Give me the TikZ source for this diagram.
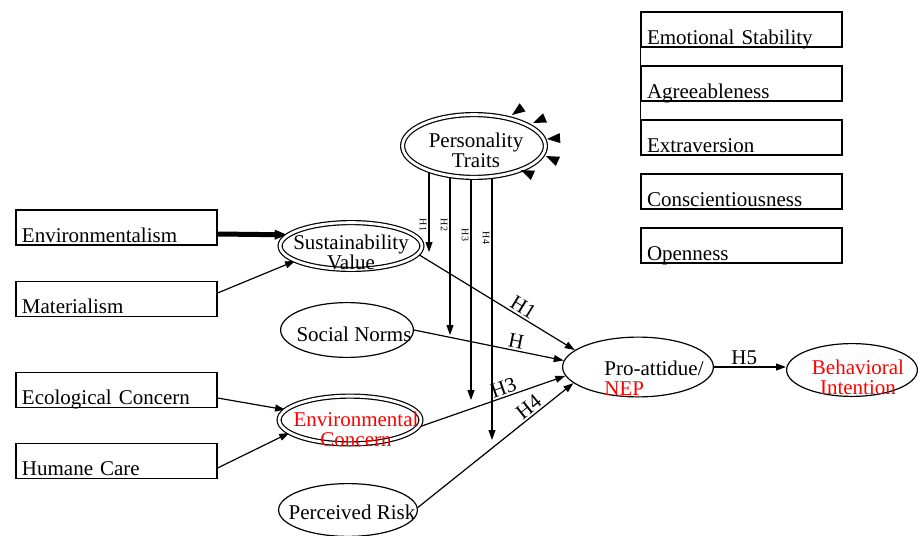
\documentclass[tikz,border=0pt]{standalone}
\usepackage{fontspec}
\setmainfont{Liberation Serif}
\usetikzlibrary{shapes.geometric,arrows.meta,backgrounds}

\begin{document}
\begin{tikzpicture}[
            x=0.5pt, y=-0.5pt,
            font=\fontsize{10.5}{10}\selectfont,
            every node/.style={inner sep=0pt},
            obs/.style={draw, rectangle, line width=0.6pt, text width=94.5pt, align=left,
                inner xsep=3pt, inner ysep=0pt, text height=16pt, text depth=1.5pt},
            lat/.style={draw, ellipse, line width=0.6pt, fill=white},
            dlat/.style={lat, double, double distance=1.4pt},
            arr/.style={-{Triangle[length=5pt,width=3.5pt]}, line width=0.6pt},
            hyp/.style={sloped, above=1pt},
            mod/.style={rotate=-90, anchor=north, inner sep=1pt, font=\fontsize{5}{5}\selectfont},
        ]
            \useasboundingbox (0,0) rectangle (918,536);

            % observed boxes on the left
            \node [obs] (envm) at (116.5,227.5) {Environmentalism};
            \node [obs] (mat) at (116.5,299) {Materialism};
            \node [obs] (eco) at (116.5,390) {Ecological Concern};
            \node [obs] (hum) at (116.5,461) {Humane Care};

            % big five boxes
            \node [obs] (emo) at (741.5,29.5) {Emotional Stability};
            \node [obs] (agr) at (741.5,83.5) {Agreeableness};
            \node [obs] (ext) at (741.5,137.5) {Extraversion};
            \node [obs] (con) at (741.5,191.5) {Conscientiousness};
            \node [obs] (ope) at (741.5,245.5) {Openness};
            \draw [line width=0.6pt] (emo.north west) -- (ext.south west);

            % constructs
            \node [dlat, minimum width=71.4pt, minimum height=31.4pt,
                label={[align=center, xshift=1pt, yshift=-2pt]center:Personality\\Traits}] (pers) at (474,146) {};
            \node [dlat, minimum width=70.9pt, minimum height=23.4pt,
                label={[align=center, yshift=-3pt]center:Sustainability\\Value}] (sus) at (351,246) {};
            \node [lat, minimum width=66.4pt, minimum height=27.4pt,
                label={[xshift=3.5pt, yshift=-2pt]center:Social Norms}] (soc) at (347,330) {};
            \node [dlat, minimum width=70.9pt, minimum height=23.9pt,
                label={[align=center, red, xshift=3pt, yshift=-4.5pt]center:Environmental\\Concern}] (envc) at (350,420) {};
            \node [lat, minimum width=69.4pt, minimum height=26.4pt,
                label={[xshift=2pt, yshift=-1pt]center:Perceived Risk}] (risk) at (348,510) {};
            \node [lat, minimum width=75.4pt, minimum height=29.9pt,
                label={[align=left, xshift=8pt, yshift=-5.5pt]center:Pro-attidue/\\\textcolor{red}{NEP}}] (pro) at (638,367) {};
            \node [lat, minimum width=65.4pt, minimum height=26.4pt,
                label={[align=center, red, xshift=3pt, yshift=-3.5pt]center:Behavioral\\Intention}] (beh) at (852,370) {};

            % loose arrow heads next to the traits
            \foreach \tx/\ty/\a in {512/115/-36, 533/123/-23, 547/139/-4, 546/156/24, 521/170/24}
                \fill (\tx,\ty) -- +(\a+21:14) -- +(\a-21:14) -- cycle;

            \coordinate (m1) at (429,252);
            \coordinate (m2) at (450,335);
            \coordinate (m3) at (471,400);
            \coordinate (m4) at (492,440);

            \begin{scope}[on background layer]
                \draw [-{Triangle[length=6.5pt,width=4.5pt]}, line width=2.5pt] ([yshift=-3.25pt]envm.east) -- (sus.170);
                \draw [arr] ([yshift=3pt]mat.east) -- (sus.195);
                \draw [arr] ([yshift=-4pt]eco.east) -- (envc.171);
                \draw [arr] ([yshift=-3.5pt]hum.east) -- (envc.192);

                % moderation by personality
                \draw [arr] (pers.center -| m1) -- node [mod, pos=0.745] {H1} (m1);
                \draw [arr] (pers.center -| m2) -- node [mod, pos=0.418] {H2} (m2);
                \draw [arr] (pers.center -| m3) -- node [mod, pos=0.35] {H3} (m3);
                \draw [arr] (pers.center -| m4) -- node [mod, pos=0.313] {H4} (m4);

                \draw [arr] (sus.-7) -- node [hyp, pos=0.64] {H1} (pro.165);
                \draw [arr] (soc.east) -- node [hyp, pos=0.67] {H} (pro.175);
                \draw [arr] (envc.-6) -- node [hyp, pos=0.6] {H3} (pro.187);
                \draw [arr] (risk.2) -- node [hyp, pos=0.75] {H4} (pro.194);
                \draw [arr] (pro.east) -- node [above=1pt, pos=0.42] {H5} (beh.west |- pro.east);
            \end{scope}
        \end{tikzpicture}
\end{document}
